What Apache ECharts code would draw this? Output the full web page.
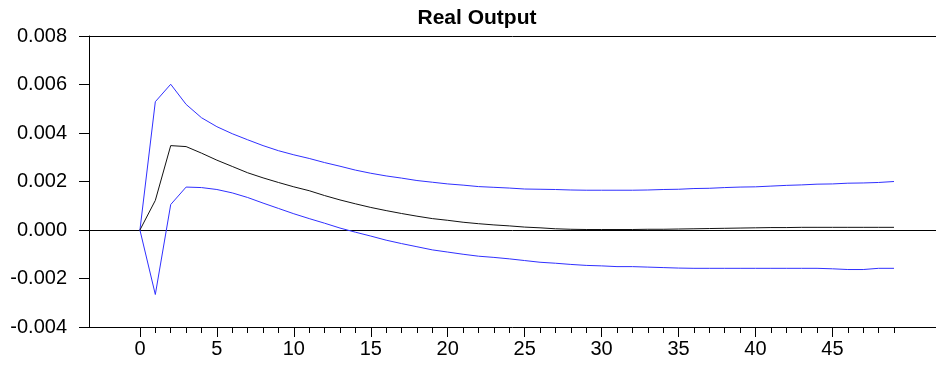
<!DOCTYPE html>
<html>
<head>
<meta charset="utf-8">
<title>Real Output</title>
<script src="https://cdn.jsdelivr.net/npm/echarts@6/dist/echarts.min.js"></script>
<style>
  html, body { margin: 0; padding: 0; background: #fff; }
  #chart { width: 936px; height: 365px; }
</style>
</head>
<body>
<div id="chart"></div>
<script>
// Impulse response horizon (periods after the shock)
const periods = [
  0, 1, 2, 3, 4, 5, 6, 7, 8, 9,
  10, 11, 12, 13, 14, 15, 16, 17, 18, 19,
  20, 21, 22, 23, 24, 25, 26, 27, 28, 29,
  30, 31, 32, 33, 34, 35, 36, 37, 38, 39,
  40, 41, 42, 43, 44, 45, 46, 47, 48, 49
];

// Point response of real output
const response = [
  0, 0.00122, 0.00348, 0.00344, 0.00317, 0.00288, 0.00262, 0.00236, 0.00215, 0.00196,
  0.00178, 0.00162, 0.00142, 0.00124, 0.00108, 0.00093, 0.00080, 0.00068, 0.00057, 0.00047,
  0.00040, 0.00032, 0.00026, 0.00021, 0.00017, 0.00012, 0.00009, 0.00005, 0.00003, 0.00002,
  0.00002, 0.00002, 0.00002, 0.00003, 0.00003, 0.00004, 0.00005, 0.00006, 0.00007, 0.00008,
  0.00009, 0.00010, 0.00010, 0.00011, 0.00011, 0.00011, 0.00011, 0.00011, 0.00011, 0.00011
];

// Upper confidence band
const upperBand = [
  0, 0.00529, 0.00601, 0.00518, 0.00463, 0.00426, 0.00397, 0.00372, 0.00348, 0.00327,
  0.00310, 0.00295, 0.00278, 0.00263, 0.00247, 0.00234, 0.00223, 0.00214, 0.00204, 0.00197,
  0.00190, 0.00185, 0.00179, 0.00176, 0.00173, 0.00169, 0.00168, 0.00167, 0.00165, 0.00164,
  0.00164, 0.00164, 0.00164, 0.00165, 0.00167, 0.00168, 0.00171, 0.00172, 0.00175, 0.00177,
  0.00178, 0.00181, 0.00184, 0.00186, 0.00189, 0.00190, 0.00193, 0.00194, 0.00196, 0.00200
];

// Lower confidence band
const lowerBand = [
  0, -0.00266, 0.00105, 0.00177, 0.00175, 0.00167, 0.00153, 0.00134, 0.00111, 0.00089,
  0.00067, 0.00047, 0.00028, 0.00008, -0.00009, -0.00025, -0.00042, -0.00056, -0.00069, -0.00082,
  -0.00091, -0.00100, -0.00108, -0.00113, -0.00119, -0.00126, -0.00133, -0.00137, -0.00142, -0.00146,
  -0.00148, -0.00151, -0.00151, -0.00153, -0.00155, -0.00157, -0.00158, -0.00158, -0.00158, -0.00158,
  -0.00158, -0.00158, -0.00158, -0.00158, -0.00158, -0.00160, -0.00163, -0.00163, -0.00158, -0.00158
];

// Axis tick positions
const xLabelTicks = [0, 5, 10, 15, 20, 25, 30, 35, 40, 45];
const xMinorTicks = periods;

const FONT = '"Liberation Sans", Arial, sans-serif';
const X_MIN = -3.31;
const X_MAX = 51.73;

const pairs = arr => periods.map((p, i) => [p, arr[i]]);

const chart = echarts.init(document.getElementById('chart'), null, { renderer: 'canvas' });

const baseX = {
  type: 'value',
  min: X_MIN,
  max: X_MAX,
  splitLine: { show: false },
  axisPointer: { show: false }
};

chart.setOption({
  animation: false,
  backgroundColor: '#ffffff',
  grid: { left: 89, right: 0, top: 36, bottom: 38, containLabel: false },
  graphic: [{
    type: 'text',
    x: 477,
    y: 18,
    style: {
      text: 'Real Output',
      font: 'bold 21px ' + FONT,
      fill: '#000',
      textAlign: 'center',
      textVerticalAlign: 'middle'
    }
  }],
  xAxis: [
    Object.assign({}, baseX, {
      position: 'bottom',
      axisLine: { show: true, onZero: false, lineStyle: { color: '#000', width: 1 } },
      axisTick: { show: true, length: 6, customValues: xMinorTicks, lineStyle: { color: '#000', width: 1 } },
      axisLabel: { show: false }
    }),
    Object.assign({}, baseX, {
      position: 'bottom',
      axisLine: { show: false, onZero: false },
      axisTick: { show: true, length: 10, customValues: xLabelTicks, lineStyle: { color: '#000', width: 1 } },
      axisLabel: {
        show: true,
        customValues: xLabelTicks,
        margin: 12,
        fontSize: 20,
        fontFamily: FONT,
        color: '#000'
      }
    }),
    Object.assign({}, baseX, {
      position: 'top',
      axisLine: { show: true, onZero: false, lineStyle: { color: '#000', width: 1 } },
      axisTick: { show: false },
      axisLabel: { show: false }
    })
  ],
  yAxis: {
    type: 'value',
    position: 'left',
    min: -0.004,
    max: 0.008,
    interval: 0.002,
    splitLine: { show: false },
    axisLine: { show: true, onZero: false, lineStyle: { color: '#000', width: 1 } },
    axisTick: { show: true, inside: false, length: 10, lineStyle: { color: '#000', width: 1 } },
    axisLabel: {
      margin: 22,
      fontSize: 20,
      fontFamily: FONT,
      color: '#000',
      formatter: v => v.toFixed(3)
    }
  },
  series: [
    {
      name: 'Upper',
      type: 'line',
      data: pairs(upperBand),
      showSymbol: false,
      symbol: 'none',
      lineStyle: { color: '#3030ff', width: 1 },
      silent: true,
      z: 3
    },
    {
      name: 'Lower',
      type: 'line',
      data: pairs(lowerBand),
      showSymbol: false,
      symbol: 'none',
      lineStyle: { color: '#3030ff', width: 1 },
      silent: true,
      z: 3
    },
    {
      name: 'Response',
      type: 'line',
      data: pairs(response),
      showSymbol: false,
      symbol: 'none',
      lineStyle: { color: '#111', width: 1 },
      silent: true,
      z: 4,
      markLine: {
        silent: true,
        symbol: 'none',
        label: { show: false },
        lineStyle: { color: '#000', width: 1, type: 'solid' },
        data: [{ yAxis: 0 }],
        z: 2
      }
    }
  ]
});
</script>
</body>
</html>
